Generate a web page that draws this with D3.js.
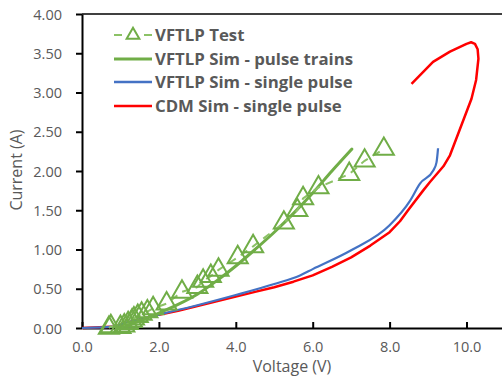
<!DOCTYPE html>
<html><head><meta charset="utf-8">
<script src="https://cdn.jsdelivr.net/npm/d3@7"></script>
<style>body{margin:0;background:#fff}svg{display:block}text{font-family:"Open Sans",sans-serif}</style>
</head><body>
<svg id="c" width="502" height="380"></svg>
<script>
// VFTLP Test (V, A)
const testV = [0.70,0.75,1.00,1.10,1.20,1.30,1.35,1.45,1.55,1.70,1.85,2.20,2.60,3.00,3.15,3.35,3.55,4.05,4.45,5.25,5.60,5.75,6.15,6.95,7.35,7.85];
const testI = [0.00,0.02,0.01,0.03,0.06,0.09,0.12,0.15,0.18,0.21,0.25,0.31,0.46,0.52,0.60,0.66,0.74,0.90,1.04,1.34,1.50,1.65,1.79,1.96,2.13,2.28];
// VFTLP Sim - pulse trains
const trainV = [0.90,1.00,1.50,2.00,2.50,3.00,3.50,4.00,4.50,5.00,5.50,6.00,6.50,7.02];
const trainI = [0.00,0.01,0.09,0.19,0.30,0.43,0.60,0.79,1.00,1.22,1.46,1.72,2.00,2.28];
// VFTLP Sim - single pulse
const singleV = [0.00,0.90,1.05,1.50,2.00,3.00,4.00,5.00,5.67,6.00,7.00,8.00,8.53,8.79,9.14,9.22,9.26];
const singleI = [0.00,0.02,0.05,0.11,0.17,0.29,0.42,0.56,0.67,0.75,0.99,1.31,1.62,1.84,2.01,2.11,2.29];
// CDM Sim - single pulse
const cdmV = [0.00,0.90,1.05,1.50,2.00,2.50,3.00,3.50,4.00,4.50,5.00,5.50,6.00,6.50,7.00,7.50,8.00,8.27,8.48,8.87,9.05,9.40,9.57,10.13,10.25,10.31,10.29,10.22,10.12,10.00,9.57,9.13,8.57];
const cdmI = [0.00,0.02,0.05,0.11,0.17,0.22,0.28,0.34,0.40,0.46,0.52,0.59,0.67,0.78,0.90,1.05,1.22,1.36,1.50,1.75,1.86,2.06,2.20,2.92,3.16,3.43,3.55,3.62,3.64,3.62,3.52,3.39,3.11];

const xTicks = [0,2,4,6,8,10];
const yTicks = [0,0.5,1,1.5,2,2.5,3,3.5,4];
const seriesNames = ["VFTLP Test","VFTLP Sim - pulse trains","VFTLP Sim - single pulse","CDM Sim - single pulse"];
const colors = ["#70AD47","#70AD47","#4472C4","#FF0000"];

const svg = d3.select("#c");
const x = d3.scaleLinear().domain([0,12]).range([82,82+12*38.45]);
const y = d3.scaleLinear().domain([0,4]).range([328,14]);
const grey = "#595959";

// top border
svg.append("line").attr("x1",82).attr("x2",502).attr("y1",y(4)).attr("y2",y(4))
  .attr("stroke","#404040").attr("stroke-width",2);

// axes
const xa = svg.append("g").attr("transform",`translate(0,${y(0)})`)
  .call(d3.axisBottom(x).tickValues(xTicks).tickSizeInner(-6).tickSizeOuter(0).tickPadding(14).tickFormat(d3.format(".1f")));
const ya = svg.append("g").attr("transform",`translate(${x(0)},0)`)
  .call(d3.axisLeft(y).tickValues(yTicks).tickSizeInner(6).tickSizeOuter(0).tickPadding(14).tickFormat(d3.format(".2f")));
[xa,ya].forEach(g=>{
  g.select(".domain").attr("stroke","#000").attr("stroke-width",2);
  g.selectAll(".tick line").attr("stroke","#000").attr("stroke-width",2);
  g.selectAll(".tick text").attr("fill",grey).style("font-size","14.5px").style("font-family","'Open Sans',sans-serif");
});
ya.selectAll(".tick text").attr("dy","0.35em");

// axis titles
svg.append("text").attr("x",292).attr("y",372).attr("text-anchor","middle")
  .attr("fill",grey).style("font-size","16px").text("Voltage (V)");
svg.append("text").attr("transform","translate(22,170) rotate(-90)").attr("text-anchor","middle")
  .attr("fill",grey).style("font-size","16px").text("Current (A)");

const lineLin = d3.line().x(d=>x(d[0])).y(d=>y(d[1]));
const lineMono = d3.line().x(d=>x(d[0])).y(d=>y(d[1])).curve(d3.curveMonotoneX);
const zip = (a,b)=>a.map((v,i)=>[v,b[i]]);

svg.append("path").datum(zip(cdmV,cdmI)).attr("d",lineLin).attr("fill","none")
  .attr("stroke",colors[3]).attr("stroke-width",2.5).attr("stroke-linejoin","round");
svg.append("path").datum(zip(singleV,singleI)).attr("d",lineMono).attr("fill","none")
  .attr("stroke",colors[2]).attr("stroke-width",2.2);
svg.append("path").datum(zip(trainV,trainI)).attr("d",lineMono).attr("fill","none")
  .attr("stroke",colors[1]).attr("stroke-width",3).attr("stroke-linecap","round");
const testData = zip(testV,testI);
svg.append("path").datum(testData).attr("d",lineLin).attr("fill","none")
  .attr("stroke","#8cc266").attr("stroke-width",2).attr("stroke-dasharray","8,6");
const tri = d3.symbol().type(d3.symbolTriangle).size(175);
svg.selectAll("path.m").data(testData).enter().append("path").attr("class","m")
  .attr("transform",d=>`translate(${x(d[0])},${y(d[1])})`).attr("d",tri)
  .attr("fill","none").attr("stroke",colors[0]).attr("stroke-width",2);

// legend
const lg = svg.append("g");
const ly = [35,59,82,106];
seriesNames.forEach((n,i)=>{
  const g = lg.append("g").attr("transform",`translate(0,${ly[i]})`);
  if(i===0){
    g.append("line").attr("x1",114).attr("x2",152).attr("y1",0).attr("y2",0)
      .attr("stroke","#8cc266").attr("stroke-width",2).attr("stroke-dasharray","8,22");
    g.append("path").attr("transform","translate(133,0)").attr("d",d3.symbol().type(d3.symbolTriangle).size(70))
      .attr("fill","#fff").attr("stroke",colors[0]).attr("stroke-width",2);
    g.append("line").attr("x1",144).attr("x2",152).attr("y1",0).attr("y2",0)
      .attr("stroke","#8cc266").attr("stroke-width",2);
  } else {
    g.append("line").attr("x1",114).attr("x2",152).attr("y1",0).attr("y2",0)
      .attr("stroke",colors[i]).attr("stroke-width",i===1?3:2.5);
  }
  g.append("text").attr("x",155).attr("y",0).attr("dy","0.35em").attr("fill",grey)
    .style("font-size","16.8px").style("font-weight","bold").text(n);
});
</script>
</body></html>
